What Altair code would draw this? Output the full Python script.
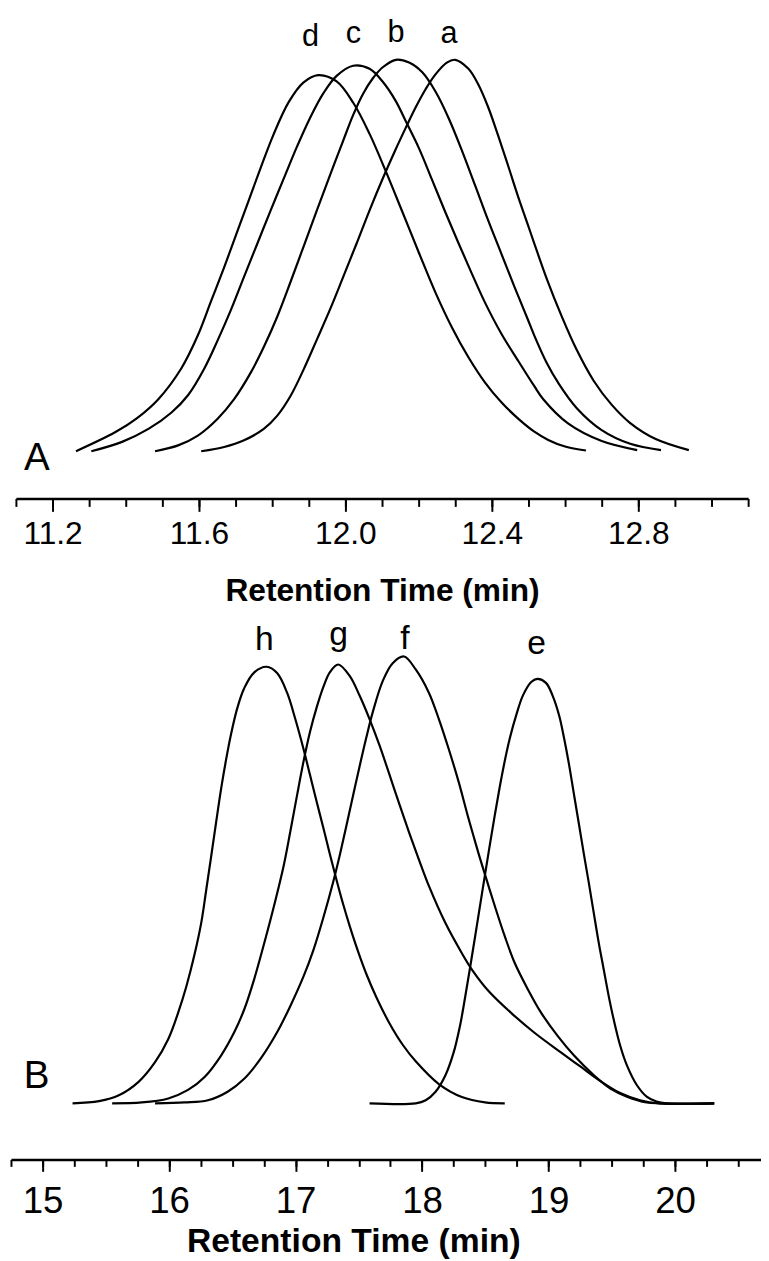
import altair as alt
import pandas as pd

FONT = "Liberation Sans"

# ---------------- Panel A data (time in min, intensity in % of max) ----------------
d_t = [11.264, 11.372, 11.430, 11.489, 11.552, 11.597, 11.633, 11.669, 11.702, 11.735, 11.768, 11.803, 11.845, 11.885, 11.926, 11.976, 12.021, 12.066, 12.111, 12.156, 12.201, 12.246, 12.291, 12.336, 12.381, 12.426, 12.471, 12.516, 12.554, 12.600, 12.657]
d_i = [0, 4.9, 8.4, 13.3, 21.2, 29.6, 38.3, 47.0, 55.4, 63.8, 72.2, 80.7, 89.1, 94.1, 96.0, 94.4, 89.0, 81.0, 71.3, 61.0, 50.6, 40.5, 31.6, 24.0, 17.6, 12.5, 8.4, 5.0, 2.9, 1.2, 0.2]

c_t = [11.306, 11.390, 11.462, 11.525, 11.570, 11.615, 11.651, 11.687, 11.723, 11.759, 11.795, 11.832, 11.868, 11.904, 11.940, 11.976, 12.021, 12.066, 12.102, 12.138, 12.165, 12.201, 12.237, 12.273, 12.309, 12.345, 12.381, 12.426, 12.471, 12.516, 12.541, 12.608, 12.700, 12.797]
c_i = [0, 2.4, 5.7, 9.9, 14.3, 21.2, 28.3, 36.0, 44.5, 52.9, 61.3, 69.7, 77.8, 85.2, 91.4, 95.8, 98.4, 97.6, 94.3, 89.3, 84.2, 77.3, 69.2, 61.0, 53.1, 45.4, 38.0, 30.0, 23.2, 16.6, 13.2, 7.1, 2.6, 0.3]

b_t = [11.480, 11.543, 11.597, 11.651, 11.696, 11.741, 11.777, 11.814, 11.850, 11.886, 11.922, 11.958, 11.994, 12.021, 12.048, 12.075, 12.102, 12.138, 12.174, 12.210, 12.246, 12.282, 12.318, 12.354, 12.390, 12.426, 12.462, 12.498, 12.516, 12.550, 12.581, 12.632, 12.700, 12.778, 12.862]
b_i = [0, 1.5, 4.0, 8.3, 13.3, 20.0, 26.6, 34.4, 43.2, 52.3, 61.5, 70.5, 79.3, 85.8, 91.2, 95.2, 98.0, 99.9, 99.2, 96.7, 91.8, 85.0, 76.8, 67.9, 58.9, 50.4, 41.9, 33.7, 29.5, 22.5, 17.5, 11.0, 5.4, 1.9, 0.3]

a_t = [11.606, 11.669, 11.723, 11.777, 11.814, 11.850, 11.886, 11.922, 11.958, 11.994, 12.030, 12.066, 12.102, 12.138, 12.165, 12.192, 12.219, 12.246, 12.277, 12.300, 12.336, 12.363, 12.390, 12.417, 12.444, 12.471, 12.498, 12.516, 12.550, 12.590, 12.630, 12.678, 12.727, 12.778, 12.846, 12.938]
a_i = [0, 1.1, 2.8, 5.7, 9.1, 14.1, 20.9, 28.5, 36.2, 44.5, 52.9, 61.5, 69.6, 77.2, 82.6, 87.8, 92.4, 96.2, 99.2, 99.9, 97.6, 93.6, 87.8, 80.6, 73.0, 65.2, 57.9, 53.0, 44.0, 34.6, 26.2, 18.0, 11.9, 7.2, 3.2, 0.3]

# ---------------- Panel B data ----------------
h_t = [15.237, 15.446, 15.603, 15.759, 15.889, 15.994, 16.072, 16.137, 16.202, 16.255, 16.294, 16.333, 16.372, 16.411, 16.450, 16.489, 16.541, 16.594, 16.672, 16.771, 16.854, 16.933, 16.998, 17.063, 17.115, 17.167, 17.220, 17.272, 17.324, 17.376, 17.429, 17.494, 17.559, 17.638, 17.741, 17.850, 17.950, 18.133, 18.315, 18.498, 18.654]
h_i = [0, 0.5, 1.8, 4.8, 9.2, 14.4, 20.3, 26.2, 33.4, 40.5, 47.8, 55.3, 62.9, 70.3, 76.8, 82.5, 88.6, 92.9, 96.4, 97.7, 96.3, 91.9, 86.0, 79.3, 73.4, 67.5, 61.6, 55.7, 50.0, 44.6, 39.6, 34.0, 29.0, 23.8, 18.0, 13.0, 9.4, 4.3, 1.4, 0.2, 0]

g_t = [15.550, 15.785, 15.994, 16.150, 16.281, 16.411, 16.515, 16.594, 16.672, 16.750, 16.828, 16.907, 16.959, 17.011, 17.063, 17.115, 17.167, 17.220, 17.272, 17.337, 17.429, 17.507, 17.585, 17.664, 17.742, 17.820, 17.898, 17.976, 18.055, 18.184, 18.315, 18.393, 18.524, 18.706, 18.889, 19.098, 19.254, 19.410, 19.567, 19.723, 19.880, 20.310]
g_i = [0, 0.2, 1.1, 3.0, 5.9, 10.7, 15.9, 21.0, 27.7, 35.6, 44.0, 53.3, 60.9, 68.8, 76.5, 83.2, 88.6, 93.2, 96.5, 98.2, 95.6, 91.2, 86.0, 80.1, 73.6, 67.0, 60.6, 54.5, 48.6, 40.4, 33.6, 30.0, 25.2, 20.2, 15.8, 11.4, 8.2, 5.0, 2.3, 0.7, 0, 0]

f_t = [15.889, 16.124, 16.307, 16.463, 16.594, 16.724, 16.854, 16.959, 17.063, 17.141, 17.220, 17.298, 17.350, 17.402, 17.454, 17.507, 17.559, 17.611, 17.689, 17.768, 17.858, 17.950, 18.054, 18.133, 18.211, 18.289, 18.367, 18.446, 18.511, 18.576, 18.654, 18.733, 18.837, 18.941, 19.072, 19.202, 19.359, 19.489, 19.620, 19.776, 19.880, 20.310]
f_i = [0, 0.2, 0.7, 2.6, 5.5, 10.0, 15.9, 21.8, 28.4, 34.3, 41.6, 49.6, 55.6, 62.1, 68.8, 75.5, 81.8, 87.6, 94.5, 98.5, 100.0, 97.1, 91.9, 86.0, 79.3, 72.0, 63.8, 56.0, 50.0, 44.1, 37.4, 31.4, 25.5, 20.3, 15.1, 10.7, 6.3, 3.3, 1.5, 0.2, 0, 0]

e_t = [17.585, 17.950, 18.029, 18.107, 18.185, 18.250, 18.302, 18.341, 18.380, 18.420, 18.459, 18.498, 18.537, 18.576, 18.615, 18.654, 18.694, 18.746, 18.798, 18.863, 18.915, 18.980, 19.033, 19.085, 19.124, 19.163, 19.202, 19.241, 19.280, 19.320, 19.359, 19.398, 19.437, 19.476, 19.515, 19.567, 19.620, 19.698, 19.776, 19.854, 19.932, 20.310]
e_i = [0, 0, 0.7, 2.6, 6.3, 11.4, 17.6, 23.8, 30.4, 37.4, 44.3, 51.2, 58.0, 64.6, 70.9, 76.6, 81.7, 87.0, 91.3, 94.3, 95.0, 94.1, 91.2, 86.7, 81.6, 75.7, 69.0, 62.4, 55.7, 49.1, 42.4, 35.8, 29.9, 24.0, 18.8, 12.9, 8.5, 4.1, 1.5, 0.4, 0, 0]

# ---------------- Labels ----------------
peakA_lab = ["d", "c", "b", "a"]
peakA_t = [11.905, 12.022, 12.138, 12.283]
peakA_i = [103.4, 104.1, 104.4, 104.1]

peakB_lab = ["h", "g", "f", "e"]
peakB_t = [16.753, 17.340, 17.864, 18.905]
peakB_i = [101.5, 102.6, 101.7, 100.6]

panel_lab = ["A", "B"]
panel_t = [11.122, 14.851]
panel_i = [-4.7, 3.4]

# ---------------- Axes ticks ----------------
A_major = [11.2, 11.6, 12.0, 12.4, 12.8]
A_minor = [round(11.1 + 0.1 * k, 1) for k in range(21)]
B_major = [15, 16, 17, 18, 19, 20]
B_minor = [14.75 + 0.25 * k for k in range(24)]


def long_df(series):
    rows = []
    for name, ts, vs in series:
        for t, v in zip(ts, vs):
            rows.append({"t": t, "I": v, "curve": name})
    return pd.DataFrame(rows)


dfA = long_df([("a", a_t, a_i), ("b", b_t, b_i), ("c", c_t, c_i), ("d", d_t, d_i)])
dfB = long_df([("e", e_t, e_i), ("f", f_t, f_i), ("g", g_t, g_i), ("h", h_t, h_i)])
dfA_lab = pd.DataFrame({"t": peakA_t, "I": peakA_i, "lab": peakA_lab})
dfB_lab = pd.DataFrame({"t": peakB_t, "I": peakB_i, "lab": peakB_lab})
dfA_pan = pd.DataFrame({"t": [panel_t[0]], "I": [panel_i[0]], "lab": [panel_lab[0]]})
dfB_pan = pd.DataFrame({"t": [panel_t[1]], "I": [panel_i[1]], "lab": [panel_lab[1]]})

W, H = 761, 1157

def xsA():
    return alt.Scale(domain=[11.1, 13.1], range=[8, 748], nice=False, zero=False)

def ysA():
    return alt.Scale(domain=[0, 100], range=[441.3, 45.3], nice=False, zero=False)

def xsB():
    return alt.Scale(domain=[14.75, 20.68], range=[3, 761], nice=False, zero=False)

def ysB():
    return alt.Scale(domain=[0, 100], range=[1100.3, 648.7], nice=False, zero=False)

A_OFF = 489 - H

axis_common = dict(orient="bottom", grid=False, tickColor="black", domainColor="black",
                   tickWidth=2, domainWidth=2.5, labelColor="black", titleColor="black")

curvesA = alt.Chart(dfA).mark_line(color="black", strokeWidth=2.2, interpolate="catmull-rom").encode(
    x=alt.X("t:Q", scale=xsA(), axis=alt.Axis(
        offset=A_OFF, values=A_major, format=".1f", tickSize=13,
        labelFont=FONT, labelFontSize=32, labelBaseline="alphabetic", labelPadding=33,
        labelFlush=False, labelOverlap=False,
        title="Retention Time (min)", titleFont=FONT, titleFontSize=32, titleFontWeight="bold",
        titleX=378, titleY=103, titleAlign="center", titleBaseline="alphabetic",
        **axis_common)),
    y=alt.Y("I:Q", scale=ysA(), axis=None),
    detail="curve:N",
)

textA = alt.Chart(dfA_lab).mark_text(font=FONT, fontSize=31, color="black", align="center", baseline="alphabetic").encode(
    x=alt.X("t:Q", scale=xsA(), axis=alt.Axis(
        offset=A_OFF, values=A_minor, tickSize=8, labels=False, domain=False, title=None,
        **axis_common)),
    y=alt.Y("I:Q", scale=ysA(), axis=None),
    text="lab:N",
)

panA = alt.Chart(dfA_pan).mark_text(font=FONT, fontSize=39, color="black", align="left", baseline="alphabetic").encode(
    x=alt.X("t:Q", scale=xsA(), axis=None),
    y=alt.Y("I:Q", scale=ysA(), axis=None),
    text="lab:N",
)

curvesB = alt.Chart(dfB).mark_line(color="black", strokeWidth=2.2, interpolate="catmull-rom").encode(
    x=alt.X("t:Q", scale=xsB(), axis=alt.Axis(
        offset=0, values=B_major, format="d", tickSize=12,
        labelFont=FONT, labelFontSize=37, labelBaseline="alphabetic", labelPadding=42,
        labelFlush=False, labelOverlap=False,
        title="Retention Time (min)", titleFont=FONT, titleFontSize=34, titleFontWeight="bold",
        titleX=349, titleY=93, titleAlign="center", titleBaseline="alphabetic",
        **axis_common)),
    y=alt.Y("I:Q", scale=ysB(), axis=None),
    detail="curve:N",
)

textB = alt.Chart(dfB_lab).mark_text(font=FONT, fontSize=34, color="black", align="center", baseline="alphabetic").encode(
    x=alt.X("t:Q", scale=xsB(), axis=alt.Axis(
        offset=0, values=B_minor, tickSize=7, labels=False, domain=False, title=None,
        **axis_common)),
    y=alt.Y("I:Q", scale=ysB(), axis=None),
    text="lab:N",
)

panB = alt.Chart(dfB_pan).mark_text(font=FONT, fontSize=39, color="black", align="left", baseline="alphabetic").encode(
    x=alt.X("t:Q", scale=xsB(), axis=None),
    y=alt.Y("I:Q", scale=ysB(), axis=None),
    text="lab:N",
)

chart = alt.layer(curvesA, textA, panA, curvesB, textB, panB).resolve_scale(
    x="independent", y="independent"
).resolve_axis(
    x="independent", y="independent"
).properties(
    width=W, height=H, padding={"left": 0, "top": 0, "right": 0, "bottom": 0}, background="white"
).configure_view(stroke=None)

chart.save("out.html", embed_options={"renderer": "svg", "actions": False})
